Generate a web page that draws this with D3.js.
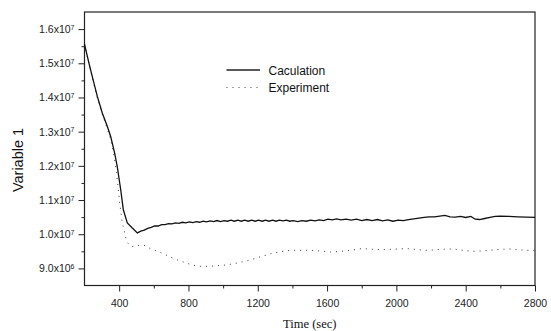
<!DOCTYPE html>
<html>
<head>
<meta charset="utf-8">
<script src="https://cdn.jsdelivr.net/npm/d3@7"></script>
<style>
  body { margin: 0; background: #fff; }
  svg { display: block; }
  .tick text { font-family: "Liberation Sans", Arial, sans-serif; font-size: 10.5px; fill: #222; }
</style>
</head>
<body>
<div id="chart"></div>
<script>
// values in units of 1e6
const calcTime = [200, 226, 245, 274, 303, 332, 351, 374, 389, 409, 424, 447, 476, 505, 525, 545, 565, 585, 605, 625, 645, 665, 685, 705, 725, 745, 765, 785, 805, 825, 845, 865, 885, 905, 925, 945, 965, 985, 1005, 1025, 1045, 1065, 1085, 1105, 1125, 1145, 1165, 1185, 1205, 1225, 1245, 1265, 1285, 1305, 1325, 1345, 1365, 1385, 1405, 1430, 1455, 1480, 1505, 1530, 1555, 1580, 1605, 1630, 1655, 1680, 1710, 1740, 1770, 1800, 1830, 1860, 1890, 1920, 1950, 1980, 2010, 2040, 2070, 2100, 2130, 2160, 2190, 2220, 2250, 2280, 2310, 2340, 2370, 2400, 2430, 2455, 2480, 2510, 2540, 2570, 2600, 2650, 2700, 2750, 2800];
const calcValue = [15.56, 15.00, 14.61, 14.03, 13.54, 13.15, 12.86, 12.37, 11.98, 11.30, 10.72, 10.33, 10.18, 10.04, 10.09, 10.12, 10.17, 10.20, 10.24, 10.24, 10.28, 10.28, 10.31, 10.30, 10.33, 10.32, 10.35, 10.33, 10.36, 10.34, 10.37, 10.35, 10.38, 10.36, 10.39, 10.37, 10.40, 10.37, 10.40, 10.38, 10.41, 10.38, 10.41, 10.38, 10.41, 10.38, 10.41, 10.38, 10.41, 10.38, 10.41, 10.38, 10.41, 10.38, 10.41, 10.39, 10.41, 10.38, 10.40, 10.37, 10.40, 10.38, 10.41, 10.39, 10.42, 10.40, 10.44, 10.42, 10.45, 10.42, 10.44, 10.41, 10.44, 10.40, 10.43, 10.40, 10.43, 10.39, 10.42, 10.38, 10.41, 10.40, 10.43, 10.45, 10.47, 10.49, 10.51, 10.51, 10.53, 10.55, 10.51, 10.50, 10.52, 10.49, 10.52, 10.44, 10.43, 10.46, 10.49, 10.52, 10.53, 10.52, 10.51, 10.50, 10.49];

const expTime = [200, 226, 245, 274, 303, 332, 351, 370, 385, 403, 418, 428, 443, 460, 476, 500, 543, 580, 620, 660, 697, 735, 774, 820, 871, 920, 967, 1015, 1063, 1110, 1159, 1215, 1275, 1330, 1390, 1450, 1505, 1560, 1620, 1680, 1740, 1800, 1860, 1920, 1980, 2060, 2120, 2180, 2240, 2300, 2340, 2400, 2450, 2520, 2580, 2650, 2720, 2800];
const expValue = [15.56, 14.98, 14.58, 13.98, 13.50, 13.08, 12.78, 12.30, 11.80, 10.91, 10.33, 10.13, 9.79, 9.68, 9.64, 9.67, 9.68, 9.58, 9.50, 9.42, 9.33, 9.25, 9.18, 9.10, 9.06, 9.06, 9.08, 9.10, 9.14, 9.19, 9.25, 9.34, 9.43, 9.49, 9.53, 9.53, 9.53, 9.51, 9.48, 9.50, 9.53, 9.58, 9.56, 9.55, 9.56, 9.58, 9.55, 9.53, 9.55, 9.57, 9.56, 9.52, 9.50, 9.52, 9.55, 9.57, 9.54, 9.52];

const xTicks = [400, 800, 1200, 1600, 2000, 2400, 2800];
const yTicks = [9, 10, 11, 12, 13, 14, 15, 16];
const yTickLabels = [["9.0x10", "6"], ["1.0x10", "7"], ["1.1x10", "7"], ["1.2x10", "7"], ["1.3x10", "7"], ["1.4x10", "7"], ["1.5x10", "7"], ["1.6x10", "7"]];
const seriesNames = ["Caculation", "Experiment"];

const width = 551, height = 331;
const margin = { left: 84.5, right: 16, top: 12, bottom: 45.5 };

const svg = d3.select('#chart').append('svg')
  .attr('width', width)
  .attr('height', height);

const x = d3.scaleLinear().domain([200, 2800]).range([margin.left, width - margin.right]);
const y = d3.scaleLinear().domain([8.5, 16.5]).range([height - margin.bottom, margin.top]);

// minor ticks
const xMinor = d3.range(600, 2800, 400);
const yMinor = d3.range(9.5, 16.5, 1);

svg.append('g')
  .attr('transform', `translate(0,${height - margin.bottom})`)
  .call(d3.axisBottom(x).tickValues(xMinor).tickSize(3).tickFormat(''))
  .call(g => g.select('.domain').remove())
  .selectAll('line').attr('stroke', '#222');

svg.append('g')
  .attr('transform', `translate(${margin.left},0)`)
  .call(d3.axisLeft(y).tickValues(yMinor).tickSize(3).tickFormat(''))
  .call(g => g.select('.domain').remove())
  .selectAll('line').attr('stroke', '#222');

const xAxis = svg.append('g')
  .attr('transform', `translate(0,${height - margin.bottom})`)
  .call(d3.axisBottom(x).tickValues(xTicks).tickSize(6).tickPadding(8).tickFormat(d3.format('d')))
  .call(g => g.select('.domain').remove());
xAxis.selectAll('line').attr('stroke', '#222');

const yAxis = svg.append('g')
  .attr('transform', `translate(${margin.left},0)`)
  .call(d3.axisLeft(y).tickValues(yTicks).tickSize(6).tickPadding(10).tickFormat(''))
  .call(g => g.select('.domain').remove());
yAxis.selectAll('line').attr('stroke', '#222');
yAxis.selectAll('.tick text').each(function(d, i) {
  const t = d3.select(this).text(null).attr('x', -10);
  t.append('tspan').text(yTickLabels[i][0]);
  t.append('tspan').attr('dy', '-0.45em').attr('font-size', '7px').text(yTickLabels[i][1]);
});

// frame
svg.append('rect')
  .attr('x', margin.left).attr('y', margin.top)
  .attr('width', width - margin.left - margin.right)
  .attr('height', height - margin.top - margin.bottom)
  .attr('fill', 'none').attr('stroke', '#222').attr('stroke-width', 1.2);

const line = d3.line().x(d => x(d[0])).y(d => y(d[1]));

svg.append('path')
  .datum(expTime.map((t, i) => [t, expValue[i]]))
  .attr('fill', 'none').attr('stroke', '#333').attr('stroke-width', 1)
  .attr('stroke-dasharray', '1,5')
  .attr('d', line);

svg.append('path')
  .datum(calcTime.map((t, i) => [t, calcValue[i]]))
  .attr('fill', 'none').attr('stroke', '#111').attr('stroke-width', 1.3)
  .attr('d', line);

// legend
const legend = svg.append('g').attr('font-family', '"Liberation Sans", Arial, sans-serif').attr('font-size', '12px');
seriesNames.forEach((name, i) => {
  const ly = 70 + i * 17.5;
  legend.append('line')
    .attr('x1', 226.5).attr('x2', 260).attr('y1', ly).attr('y2', ly)
    .attr('stroke', i === 0 ? '#222' : '#444')
    .attr('stroke-width', i === 0 ? 1.3 : 1)
    .attr('stroke-dasharray', i === 0 ? null : '1,5');
  legend.append('text')
    .attr('x', 268.5).attr('y', ly + 4.5)
    .attr('fill', '#111')
    .text(name);
});

// axis titles
svg.append('text')
  .attr('x', (margin.left + width - margin.right) / 2).attr('y', 327.5)
  .attr('text-anchor', 'middle')
  .attr('font-family', '"Liberation Serif", "Times New Roman", serif')
  .attr('font-size', '12.5px').attr('fill', '#111')
  .text('Time (sec)');

svg.append('text')
  .attr('transform', 'translate(23,160) rotate(-90)')
  .attr('text-anchor', 'middle')
  .attr('font-family', '"Liberation Sans", Arial, sans-serif')
  .attr('font-size', '14.5px').attr('fill', '#111')
  .text('Variable 1');
</script>
</body>
</html>
